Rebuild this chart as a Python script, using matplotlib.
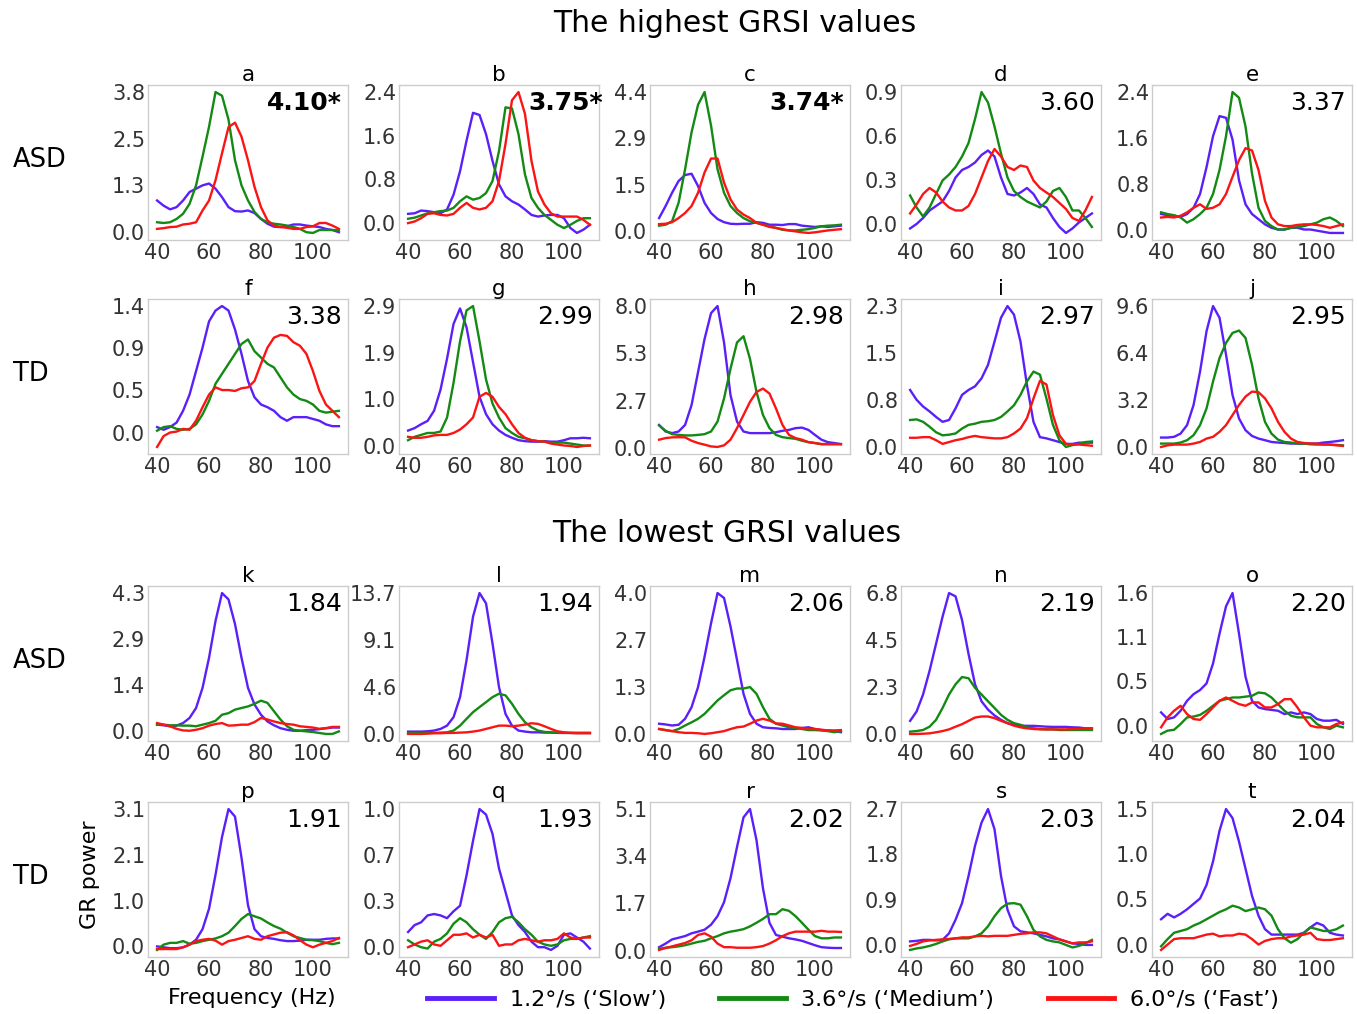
import numpy as np
import matplotlib
matplotlib.use("Agg")
import matplotlib.pyplot as plt
from matplotlib.lines import Line2D

# Frequency grid of the gamma-response spectra (Hz)
freq = np.arange(40, 110.01, 2.5)

letters = list("abcdefghijklmnopqrst")
grsi = ["4.10*", "3.75*", "3.74*", "3.60", "3.37",
        "3.38", "2.99", "2.98", "2.97", "2.95",
        "1.84", "1.94", "2.06", "2.19", "2.20",
        "1.91", "1.93", "2.02", "2.03", "2.04"]
row_groups = ["ASD", "TD", "ASD", "TD"]
speed_labels = ["1.2°/s (‘Slow’)", "3.6°/s (‘Medium’)", "6.0°/s (‘Fast’)"]

# GR power per subject, 1.2 deg/s
slow = {
    "a": [0.86, 0.72, 0.62, 0.68, 0.86, 1.09, 1.18, 1.27, 1.32, 1.18, 0.95, 0.68, 0.57, 0.56, 0.59, 0.52, 0.36, 0.23, 0.15, 0.14, 0.16, 0.21, 0.21, 0.18, 0.16, 0.14, 0.09, 0.06, 0.0],
    "b": [0.17, 0.18, 0.23, 0.22, 0.2, 0.18, 0.25, 0.52, 0.95, 1.51, 2.02, 1.98, 1.63, 1.14, 0.71, 0.49, 0.4, 0.34, 0.25, 0.15, 0.12, 0.14, 0.15, 0.15, 0.09, -0.09, -0.18, -0.12, -0.03],
    "c": [0.42, 0.8, 1.22, 1.59, 1.78, 1.82, 1.43, 0.9, 0.58, 0.39, 0.29, 0.24, 0.23, 0.24, 0.24, 0.29, 0.27, 0.21, 0.21, 0.2, 0.23, 0.23, 0.18, 0.16, 0.14, 0.16, 0.14, 0.16, 0.18],
    "d": [-0.03, 0.0, 0.04, 0.09, 0.12, 0.15, 0.22, 0.31, 0.36, 0.38, 0.41, 0.46, 0.49, 0.45, 0.31, 0.2, 0.19, 0.21, 0.24, 0.2, 0.13, 0.11, 0.04, -0.02, -0.06, -0.03, 0.01, 0.04, 0.07],
    "e": [0.27, 0.25, 0.24, 0.22, 0.27, 0.38, 0.62, 1.09, 1.63, 1.98, 1.95, 1.57, 0.86, 0.44, 0.27, 0.18, 0.09, 0.03, 0.0, 0.0, 0.03, 0.03, 0.0, 0.0, -0.02, -0.04, -0.06, -0.06, -0.06],
    "f": [0.06, 0.03, 0.06, 0.11, 0.24, 0.42, 0.68, 0.94, 1.23, 1.35, 1.4, 1.35, 1.14, 0.87, 0.57, 0.39, 0.31, 0.28, 0.24, 0.17, 0.13, 0.17, 0.17, 0.17, 0.15, 0.13, 0.09, 0.07, 0.07],
    "g": [0.32, 0.37, 0.45, 0.52, 0.73, 1.17, 1.81, 2.53, 2.85, 2.46, 1.74, 1.02, 0.66, 0.45, 0.32, 0.23, 0.17, 0.12, 0.1, 0.09, 0.09, 0.1, 0.09, 0.09, 0.12, 0.16, 0.16, 0.17, 0.16],
    "h": [1.3, 0.93, 0.84, 0.93, 1.3, 2.42, 4.28, 6.14, 7.6, 8.0, 5.95, 2.98, 1.49, 0.93, 0.84, 0.84, 0.84, 0.84, 0.89, 0.97, 1.02, 1.12, 1.15, 1.02, 0.74, 0.47, 0.33, 0.28, 0.22],
    "i": [0.93, 0.77, 0.66, 0.58, 0.49, 0.41, 0.44, 0.63, 0.85, 0.93, 0.99, 1.12, 1.34, 1.72, 2.11, 2.3, 2.16, 1.72, 1.01, 0.41, 0.16, 0.14, 0.11, 0.08, 0.05, 0.05, 0.07, 0.07, 0.07],
    "j": [0.64, 0.64, 0.69, 0.91, 1.49, 2.86, 5.14, 7.89, 9.6, 8.8, 6.29, 3.54, 1.94, 1.14, 0.75, 0.57, 0.46, 0.34, 0.3, 0.27, 0.23, 0.23, 0.23, 0.23, 0.23, 0.3, 0.34, 0.39, 0.46],
    "k": [0.19, 0.17, 0.14, 0.16, 0.24, 0.4, 0.71, 1.34, 2.28, 3.43, 4.3, 4.1, 3.33, 2.28, 1.34, 0.82, 0.5, 0.29, 0.17, 0.08, 0.03, 0.0, 0.0, 0.02, 0.03, 0.05, 0.08, 0.1, 0.1],
    "l": [0.23, 0.23, 0.23, 0.26, 0.33, 0.49, 0.81, 1.63, 3.58, 7.17, 11.4, 13.7, 12.7, 8.8, 4.56, 1.95, 0.81, 0.33, 0.23, 0.16, 0.16, 0.13, 0.13, 0.1, 0.1, 0.1, 0.1, 0.1, 0.1],
    "m": [0.29, 0.27, 0.24, 0.26, 0.43, 0.76, 1.33, 2.19, 3.14, 4.0, 3.86, 3.05, 2.1, 1.14, 0.57, 0.29, 0.19, 0.17, 0.16, 0.14, 0.14, 0.14, 0.17, 0.19, 0.14, 0.11, 0.1, 0.08, 0.05],
    "n": [0.65, 1.1, 1.92, 3.06, 4.36, 5.66, 6.8, 6.64, 5.5, 3.87, 2.41, 1.59, 1.19, 0.91, 0.7, 0.54, 0.46, 0.42, 0.41, 0.41, 0.39, 0.37, 0.36, 0.36, 0.36, 0.34, 0.33, 0.29, 0.29],
    "o": [0.16, 0.08, 0.1, 0.18, 0.3, 0.38, 0.43, 0.51, 0.75, 1.11, 1.44, 1.6, 1.11, 0.59, 0.3, 0.22, 0.2, 0.19, 0.18, 0.14, 0.16, 0.14, 0.16, 0.14, 0.08, 0.06, 0.06, 0.07, 0.02],
    "p": [0.0, -0.02, -0.04, -0.04, -0.02, 0.04, 0.15, 0.39, 0.85, 1.62, 2.47, 3.1, 2.93, 2.0, 0.93, 0.39, 0.23, 0.19, 0.17, 0.14, 0.12, 0.12, 0.13, 0.15, 0.15, 0.15, 0.17, 0.18, 0.18],
    "q": [0.11, 0.16, 0.18, 0.23, 0.24, 0.23, 0.21, 0.26, 0.3, 0.52, 0.77, 1.0, 0.96, 0.82, 0.57, 0.4, 0.23, 0.16, 0.11, 0.04, 0.0, 0.0, -0.02, 0.01, 0.09, 0.1, 0.07, 0.04, -0.01],
    "r": [0.12, 0.25, 0.4, 0.46, 0.52, 0.62, 0.68, 0.75, 0.93, 1.24, 1.74, 2.61, 3.73, 4.8, 5.1, 3.98, 2.24, 1.0, 0.56, 0.5, 0.44, 0.4, 0.35, 0.27, 0.19, 0.12, 0.1, 0.09, 0.09],
    "s": [0.07, 0.08, 0.1, 0.1, 0.09, 0.1, 0.23, 0.5, 0.83, 1.37, 1.97, 2.43, 2.7, 2.3, 1.37, 0.7, 0.37, 0.27, 0.25, 0.23, 0.2, 0.17, 0.13, 0.11, 0.07, 0.03, 0.02, 0.0, 0.0],
    "t": [0.28, 0.34, 0.3, 0.34, 0.39, 0.45, 0.51, 0.66, 0.92, 1.26, 1.5, 1.4, 1.14, 0.84, 0.54, 0.32, 0.17, 0.11, 0.11, 0.11, 0.11, 0.11, 0.13, 0.19, 0.24, 0.21, 0.13, 0.11, 0.1],
}

# 3.6 deg/s
medium = {
    "a": [0.27, 0.25, 0.27, 0.36, 0.5, 0.77, 1.27, 2.05, 2.86, 3.8, 3.7, 3.05, 1.95, 1.27, 0.86, 0.55, 0.36, 0.27, 0.23, 0.21, 0.18, 0.14, 0.09, 0.0, -0.02, 0.06, 0.06, 0.06, 0.05],
    "b": [0.08, 0.1, 0.14, 0.18, 0.2, 0.22, 0.23, 0.28, 0.4, 0.49, 0.43, 0.46, 0.55, 0.77, 1.32, 2.12, 2.1, 1.63, 0.89, 0.46, 0.28, 0.15, 0.06, -0.03, -0.09, -0.03, 0.04, 0.09, 0.09],
    "c": [0.18, 0.21, 0.32, 0.9, 1.96, 3.13, 4.0, 4.4, 3.34, 1.96, 1.22, 0.8, 0.58, 0.42, 0.32, 0.27, 0.21, 0.16, 0.11, 0.05, 0.03, 0.03, 0.05, 0.07, 0.11, 0.16, 0.18, 0.19, 0.21],
    "d": [0.19, 0.11, 0.05, 0.11, 0.2, 0.29, 0.33, 0.38, 0.45, 0.54, 0.7, 0.88, 0.81, 0.65, 0.47, 0.31, 0.22, 0.18, 0.15, 0.13, 0.11, 0.15, 0.22, 0.24, 0.18, 0.09, 0.09, 0.04, -0.02],
    "e": [0.3, 0.27, 0.25, 0.21, 0.12, 0.18, 0.27, 0.38, 0.62, 1.04, 1.63, 2.4, 2.3, 1.8, 0.98, 0.38, 0.15, 0.06, 0.0, 0.0, 0.03, 0.04, 0.06, 0.09, 0.12, 0.18, 0.21, 0.15, 0.06],
    "f": [0.02, 0.06, 0.07, 0.04, 0.03, 0.04, 0.09, 0.2, 0.35, 0.54, 0.65, 0.76, 0.87, 0.98, 1.03, 0.9, 0.83, 0.76, 0.72, 0.61, 0.5, 0.42, 0.37, 0.35, 0.31, 0.24, 0.22, 0.23, 0.24],
    "g": [0.12, 0.19, 0.23, 0.27, 0.27, 0.3, 0.59, 1.31, 2.17, 2.81, 2.9, 2.17, 1.38, 0.88, 0.59, 0.37, 0.27, 0.19, 0.16, 0.12, 0.1, 0.09, 0.07, 0.07, 0.07, 0.05, 0.03, 0.01, 0.01],
    "h": [1.27, 0.97, 0.78, 0.74, 0.71, 0.71, 0.74, 0.78, 0.93, 1.49, 2.79, 4.47, 5.95, 6.3, 5.02, 3.16, 1.86, 1.12, 0.74, 0.61, 0.56, 0.52, 0.41, 0.33, 0.28, 0.22, 0.22, 0.22, 0.22],
    "i": [0.44, 0.45, 0.41, 0.33, 0.24, 0.19, 0.2, 0.22, 0.3, 0.36, 0.38, 0.41, 0.42, 0.44, 0.49, 0.58, 0.68, 0.85, 1.07, 1.23, 1.18, 0.79, 0.36, 0.11, 0.0, 0.03, 0.05, 0.08, 0.09],
    "j": [0.23, 0.23, 0.23, 0.3, 0.46, 0.8, 1.49, 2.63, 4.46, 6.06, 7.09, 7.77, 7.93, 7.43, 5.6, 3.31, 1.71, 0.91, 0.5, 0.34, 0.3, 0.23, 0.23, 0.18, 0.16, 0.16, 0.16, 0.14, 0.11],
    "k": [0.19, 0.19, 0.17, 0.17, 0.16, 0.16, 0.14, 0.19, 0.24, 0.31, 0.5, 0.55, 0.66, 0.71, 0.76, 0.84, 0.94, 0.87, 0.61, 0.35, 0.14, 0.03, 0.0, -0.02, -0.04, -0.07, -0.1, -0.1, -0.02],
    "l": [0.07, 0.07, 0.07, 0.1, 0.1, 0.13, 0.16, 0.33, 0.81, 1.47, 2.12, 2.61, 3.09, 3.58, 3.91, 3.75, 2.93, 1.95, 1.14, 0.65, 0.33, 0.2, 0.16, 0.13, 0.1, 0.1, 0.1, 0.1, 0.1],
    "m": [0.14, 0.11, 0.08, 0.14, 0.24, 0.33, 0.43, 0.57, 0.76, 0.95, 1.1, 1.24, 1.29, 1.29, 1.33, 1.14, 0.76, 0.43, 0.29, 0.24, 0.19, 0.17, 0.14, 0.11, 0.11, 0.1, 0.08, 0.05, 0.08],
    "n": [0.13, 0.16, 0.21, 0.37, 0.7, 1.27, 1.92, 2.41, 2.76, 2.7, 2.24, 1.92, 1.59, 1.27, 0.94, 0.7, 0.54, 0.46, 0.34, 0.29, 0.26, 0.24, 0.24, 0.21, 0.21, 0.21, 0.21, 0.21, 0.21],
    "o": [-0.1, -0.06, -0.05, 0.02, 0.1, 0.11, 0.13, 0.18, 0.24, 0.3, 0.32, 0.34, 0.34, 0.35, 0.36, 0.4, 0.39, 0.34, 0.26, 0.18, 0.12, 0.1, 0.1, 0.1, 0.02, -0.02, -0.04, 0.0, -0.02],
    "p": [-0.08, 0.04, 0.08, 0.08, 0.12, 0.06, 0.08, 0.12, 0.15, 0.18, 0.23, 0.31, 0.46, 0.62, 0.73, 0.68, 0.63, 0.54, 0.46, 0.4, 0.31, 0.23, 0.19, 0.15, 0.14, 0.12, 0.08, 0.05, 0.08],
    "q": [0.05, 0.02, 0.0, -0.01, 0.04, 0.06, 0.1, 0.17, 0.21, 0.18, 0.13, 0.09, 0.06, 0.11, 0.18, 0.21, 0.22, 0.18, 0.13, 0.09, 0.04, 0.02, 0.01, 0.02, 0.05, 0.06, 0.06, 0.07, 0.08],
    "r": [0.06, 0.1, 0.12, 0.15, 0.19, 0.25, 0.31, 0.35, 0.44, 0.52, 0.62, 0.68, 0.72, 0.77, 0.87, 1.0, 1.14, 1.31, 1.31, 1.49, 1.43, 1.24, 1.0, 0.75, 0.52, 0.44, 0.44, 0.47, 0.47],
    "s": [-0.1, -0.07, -0.05, -0.02, 0.02, 0.07, 0.11, 0.13, 0.13, 0.13, 0.17, 0.23, 0.37, 0.57, 0.73, 0.82, 0.83, 0.8, 0.57, 0.3, 0.17, 0.1, 0.07, 0.05, 0.0, -0.05, -0.02, 0.03, 0.1],
    "t": [-0.02, 0.06, 0.13, 0.15, 0.17, 0.21, 0.24, 0.28, 0.32, 0.36, 0.39, 0.43, 0.41, 0.37, 0.39, 0.41, 0.39, 0.32, 0.17, 0.07, 0.02, 0.06, 0.13, 0.19, 0.17, 0.15, 0.15, 0.17, 0.21],
}

# 6.0 deg/s
fast = {
    "a": [0.09, 0.11, 0.14, 0.15, 0.21, 0.23, 0.27, 0.59, 0.86, 1.41, 2.14, 2.85, 2.97, 2.59, 1.95, 1.23, 0.68, 0.32, 0.18, 0.14, 0.12, 0.09, 0.09, 0.14, 0.16, 0.25, 0.25, 0.18, 0.09],
    "b": [0.0, 0.03, 0.09, 0.17, 0.18, 0.15, 0.14, 0.17, 0.28, 0.37, 0.28, 0.25, 0.28, 0.4, 0.77, 1.45, 2.25, 2.4, 2.0, 1.14, 0.58, 0.34, 0.18, 0.12, 0.12, 0.12, 0.12, 0.06, -0.03],
    "c": [0.23, 0.24, 0.29, 0.42, 0.58, 0.8, 1.22, 1.86, 2.3, 2.3, 1.54, 1.01, 0.69, 0.53, 0.42, 0.27, 0.21, 0.14, 0.11, 0.07, 0.03, 0.0, -0.03, -0.05, -0.03, 0.0, 0.03, 0.05, 0.07],
    "d": [0.07, 0.13, 0.2, 0.24, 0.21, 0.15, 0.11, 0.09, 0.09, 0.12, 0.2, 0.31, 0.42, 0.5, 0.45, 0.38, 0.36, 0.39, 0.38, 0.29, 0.24, 0.21, 0.18, 0.14, 0.1, 0.04, 0.02, 0.09, 0.18],
    "e": [0.21, 0.22, 0.21, 0.24, 0.3, 0.38, 0.44, 0.36, 0.38, 0.44, 0.62, 0.92, 1.21, 1.42, 1.38, 1.04, 0.5, 0.21, 0.09, 0.06, 0.06, 0.08, 0.09, 0.09, 0.08, 0.06, 0.03, 0.06, 0.09],
    "f": [-0.16, -0.04, 0.0, 0.01, 0.04, 0.03, 0.13, 0.28, 0.42, 0.5, 0.47, 0.47, 0.46, 0.49, 0.5, 0.57, 0.76, 0.94, 1.05, 1.08, 1.07, 1.0, 0.96, 0.87, 0.68, 0.46, 0.31, 0.24, 0.17],
    "g": [0.19, 0.17, 0.17, 0.19, 0.22, 0.23, 0.23, 0.27, 0.34, 0.45, 0.59, 1.02, 1.1, 1.02, 0.81, 0.66, 0.45, 0.27, 0.17, 0.12, 0.1, 0.09, 0.05, 0.03, 0.01, 0.0, -0.02, 0.0, 0.01],
    "h": [0.47, 0.56, 0.6, 0.61, 0.6, 0.41, 0.28, 0.19, 0.09, 0.06, 0.15, 0.47, 1.12, 1.86, 2.6, 3.16, 3.35, 3.07, 2.23, 1.3, 0.74, 0.56, 0.47, 0.33, 0.28, 0.22, 0.22, 0.22, 0.22],
    "i": [0.15, 0.15, 0.16, 0.16, 0.11, 0.05, 0.08, 0.11, 0.13, 0.16, 0.18, 0.16, 0.15, 0.14, 0.14, 0.16, 0.22, 0.3, 0.47, 0.79, 1.08, 1.02, 0.52, 0.19, 0.05, 0.04, 0.04, 0.03, 0.02],
    "j": [0.0, 0.11, 0.16, 0.16, 0.16, 0.23, 0.34, 0.57, 0.69, 1.03, 1.49, 2.17, 2.86, 3.43, 3.77, 3.73, 3.31, 2.63, 1.71, 1.03, 0.57, 0.34, 0.27, 0.23, 0.23, 0.18, 0.16, 0.11, 0.07],
    "k": [0.24, 0.19, 0.14, 0.06, 0.01, 0.0, 0.03, 0.08, 0.16, 0.21, 0.24, 0.16, 0.17, 0.19, 0.19, 0.27, 0.4, 0.35, 0.29, 0.24, 0.21, 0.19, 0.14, 0.12, 0.1, 0.06, 0.08, 0.12, 0.12],
    "l": [0.0, 0.0, 0.0, 0.03, 0.07, 0.07, 0.1, 0.1, 0.13, 0.16, 0.23, 0.33, 0.49, 0.65, 0.81, 0.81, 0.75, 0.81, 0.91, 1.04, 0.98, 0.75, 0.49, 0.26, 0.16, 0.1, 0.07, 0.07, 0.07],
    "m": [0.14, 0.11, 0.08, 0.05, 0.03, 0.03, 0.02, 0.0, 0.02, 0.05, 0.08, 0.14, 0.19, 0.21, 0.29, 0.38, 0.43, 0.38, 0.3, 0.29, 0.24, 0.19, 0.17, 0.14, 0.14, 0.12, 0.1, 0.1, 0.11],
    "n": [0.02, 0.02, 0.03, 0.05, 0.1, 0.16, 0.24, 0.37, 0.49, 0.65, 0.81, 0.86, 0.86, 0.78, 0.65, 0.54, 0.42, 0.34, 0.29, 0.26, 0.24, 0.24, 0.24, 0.24, 0.24, 0.26, 0.26, 0.29, 0.29],
    "o": [-0.02, 0.1, 0.18, 0.24, 0.14, 0.08, 0.07, 0.14, 0.22, 0.3, 0.34, 0.3, 0.26, 0.24, 0.28, 0.28, 0.22, 0.22, 0.26, 0.32, 0.32, 0.22, 0.1, 0.0, -0.02, -0.02, -0.02, 0.02, 0.04],
    "p": [-0.06, -0.06, -0.06, -0.06, -0.02, 0.04, 0.12, 0.15, 0.17, 0.13, 0.04, 0.12, 0.15, 0.19, 0.23, 0.17, 0.15, 0.23, 0.27, 0.31, 0.32, 0.25, 0.14, 0.04, -0.02, 0.04, 0.08, 0.12, 0.19],
    "q": [0.0, 0.02, 0.04, 0.05, 0.02, 0.01, 0.05, 0.09, 0.09, 0.1, 0.07, 0.09, 0.07, 0.09, 0.01, 0.02, 0.02, 0.05, 0.06, 0.05, 0.04, 0.05, 0.05, 0.06, 0.1, 0.07, 0.06, 0.07, 0.07],
    "r": [0.02, 0.09, 0.15, 0.21, 0.27, 0.37, 0.56, 0.62, 0.5, 0.25, 0.12, 0.12, 0.1, 0.1, 0.1, 0.12, 0.16, 0.25, 0.37, 0.52, 0.62, 0.68, 0.68, 0.68, 0.68, 0.71, 0.68, 0.68, 0.67],
    "s": [-0.02, 0.02, 0.07, 0.09, 0.1, 0.11, 0.12, 0.13, 0.15, 0.15, 0.17, 0.18, 0.17, 0.18, 0.18, 0.18, 0.2, 0.22, 0.23, 0.25, 0.25, 0.23, 0.17, 0.11, 0.07, 0.03, 0.05, 0.05, 0.07],
    "t": [-0.06, 0.0, 0.06, 0.07, 0.07, 0.07, 0.09, 0.11, 0.12, 0.09, 0.1, 0.1, 0.12, 0.11, 0.06, 0.0, 0.04, 0.06, 0.07, 0.07, 0.09, 0.1, 0.11, 0.13, 0.06, 0.05, 0.05, 0.06, 0.07],
}

colors = ["#5b1ffa", "#138a13", "#fb1414"]

plt.rcParams["font.family"] = ["DejaVu Sans"]
fig = plt.figure(figsize=(13.57, 10.14), dpi=100)
W, H = 1357.0, 1014.0

col_left = [148, 399, 650, 901, 1152]
row_top = [85, 299, 586, 802]
ax_w, ax_h = 200, 155

for idx, letter in enumerate(letters):
    r, c = divmod(idx, 5)
    ax = fig.add_axes([col_left[c] / W, 1 - (row_top[r] + ax_h) / H, ax_w / W, ax_h / H])
    series = [slow[letter], medium[letter], fast[letter]]
    for vals, col in zip(series, colors):
        ax.plot(freq, vals, color=col, lw=1.7)
    top = max(max(v) for v in series)
    ax.set_yticks(np.linspace(0, top, 4))
    ax.yaxis.set_major_formatter(matplotlib.ticker.FormatStrFormatter("%.1f"))
    ax.set_xticks([40, 60, 80, 100])
    ax.tick_params(length=0, labelsize=15, pad=2, labelcolor="#333333")
    for sp in ax.spines.values():
        sp.set_color("#cccccc")
        sp.set_linewidth(1.0)
    ax.set_title(letter, fontsize=15.5, pad=3)
    bold = grsi[idx].endswith("*")
    ax.text(1.02 if letter == "b" else 0.97, 0.96, grsi[idx], transform=ax.transAxes,
            ha="right", va="top", fontsize=18,
            fontweight="bold" if bold else "normal")

fig.text(735 / W, 1 - 24 / H, "The highest GRSI values", ha="center", va="center", fontsize=21.5)
fig.text(727 / W, 1 - 533 / H, "The lowest GRSI values", ha="center", va="center", fontsize=21.5)

for r, grp in enumerate(row_groups):
    fig.text(13 / W, 1 - (row_top[r] + 75) / H, grp, ha="left", va="center", fontsize=18.5)

fig.text(90 / W, 1 - 875 / H, "GR power", rotation=90, ha="center", va="center", fontsize=16)
fig.text(252 / W, 1 - 998 / H, "Frequency (Hz)", ha="center", va="center", fontsize=16)

handles = [Line2D([], [], color=col, lw=3.5) for col in colors]
fig.legend(handles, speed_labels, loc="center", bbox_to_anchor=(853 / W, 1 - 1000 / H),
           ncol=3, frameon=False, fontsize=16, handlelength=3.0, columnspacing=2.4,
           handletextpad=0.7)

fig.savefig("out.png", dpi=100)
